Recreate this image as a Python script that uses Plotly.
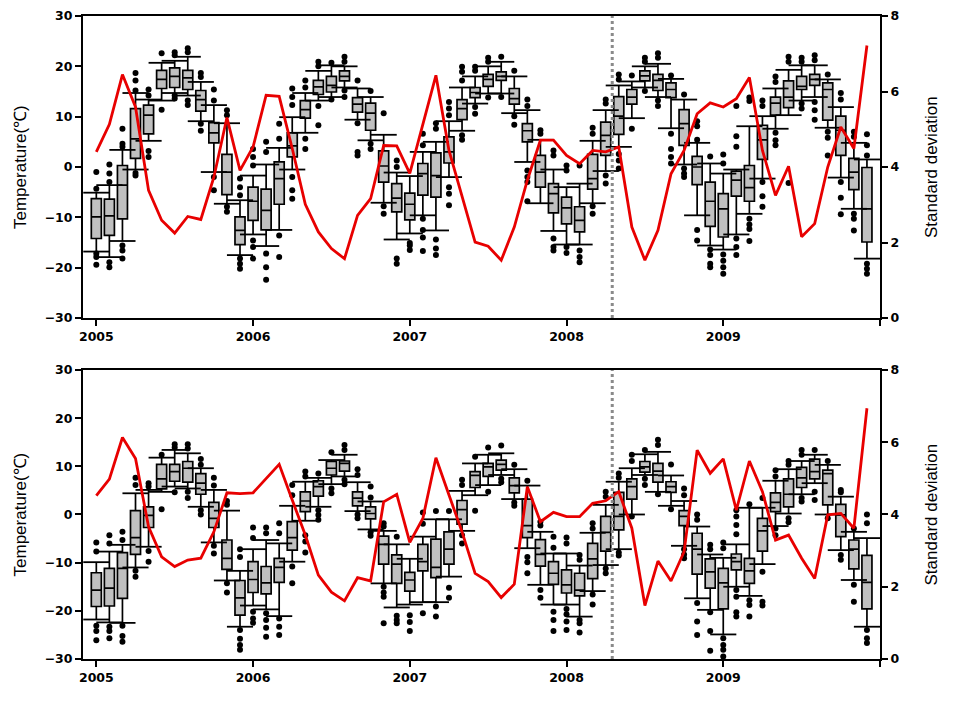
import plotly.graph_objects as go

# ---------------- data ----------------
start_year = 2005
n_months = 60
change_point = 2008 + 3.5 / 12   # dotted separator

tick_years = [2005, 2006, 2007, 2008, 2009, 2010]
tick_labels = ["2005", "2006", "2007", "2008", "2009", ""]
temp_ticks = [-30, -20, -10, 0, 10, 20, 30]
sd_ticks = [0, 2, 4, 6, 8]

# top panel: box statistics (q1, median, q3, lower whisker, upper whisker)
top_q1 = [-14.2, -13.6, -10.3, 1.7, 6.6, 15.6, 15.8, 15.4, 11.1, 4.8, -5.5, -15.4,
          -10.6, -12.5, -7.4, 2.0, 9.7, 14.4, 14.9, 17.1, 10.9, 7.3, -3.0, -8.9,
          -10.5, -5.6, -6.0, 0.8, 9.4, 13.8, 16.0, 17.2, 12.5, 5.0, -4.0, -9.1,
          -11.3, -12.9, -4.4, 2.3, 6.5, 12.5, 17.1, 15.2, 13.8, 4.3, -3.5, -11.8,
          -13.9, -5.8, -6.8, 1.5, 10.3, 11.8, 15.4, 16.2, 9.3, 2.3, -4.5, -14.9]
top_med = [-9.9, -9.7, -3.6, 5.6, 10.3, 17.4, 18.0, 17.7, 13.4, 6.8, -1.0, -12.6,
           -6.8, -8.6, -2.3, 4.2, 11.4, 15.9, 16.2, 18.0, 12.5, 10.7, 0.2, -6.2,
           -7.4, -1.3, -1.7, 3.0, 11.6, 14.8, 17.4, 18.0, 13.6, 7.2, -1.0, -5.3,
           -8.1, -10.6, -2.3, 6.3, 10.1, 13.9, 18.1, 17.2, 15.4, 8.6, 0.0, -6.8,
           -8.3, -2.6, -4.1, 5.4, 12.7, 13.9, 16.0, 17.4, 15.4, 7.3, -1.0, -8.3]
top_q3 = [-6.3, -6.4, 0.3, 11.6, 12.3, 19.2, 19.7, 19.2, 15.2, 8.8, 2.5, -9.9,
          -4.0, -4.4, 1.0, 6.8, 13.2, 17.2, 18.0, 19.1, 13.8, 12.7, 3.2, -3.3,
          -5.2, 0.7, 2.8, 6.0, 13.4, 15.8, 18.4, 18.9, 15.6, 8.6, 2.3, -3.3,
          -6.0, -7.9, 2.5, 8.9, 14.0, 15.4, 19.1, 18.4, 16.7, 11.4, 2.1, -3.0,
          -5.3, -0.8, 0.3, 8.3, 13.9, 17.1, 18.0, 18.4, 16.7, 10.1, 1.7, -0.1]
top_low = [-16.8, -17.9, -14.7, -0.5, 5.2, 13.2, 14.7, 14.2, 9.1, -1.0, -7.3, -17.5,
           -13.4, -15.7, -12.5, -0.5, 6.8, 13.2, 13.9, 15.8, 9.4, 5.3, -7.1, -14.4,
           -13.2, -9.6, -12.6, -2.0, 7.2, 12.6, 14.6, 14.6, 10.7, 1.0, -7.2, -12.7,
           -15.4, -15.4, -7.2, -0.8, 4.0, 9.7, 15.8, 13.9, 7.7, 0.5, -9.6, -15.6,
           -16.4, -13.4, -9.3, -2.3, 7.6, 10.3, 13.2, 13.9, 7.8, -2.1, -8.3, -18.2]
top_high = [-5.1, -3.6, 3.4, 14.7, 13.4, 20.7, 21.1, 21.9, 16.9, 12.3, 8.7, -6.6,
            -1.7, 0.5, 3.8, 9.9, 14.7, 19.1, 20.2, 20.0, 15.6, 13.9, 6.4, -1.1,
            -1.8, 3.0, 5.0, 9.1, 15.8, 18.0, 20.0, 20.9, 18.0, 11.3, 5.4, -0.5,
            -4.0, -3.3, 5.2, 11.3, 16.2, 17.0, 20.0, 20.5, 17.5, 13.4, 4.8, 0.7,
            -1.3, -0.5, 8.1, 10.1, 15.6, 19.3, 20.2, 20.2, 17.4, 11.9, 4.8, 1.5]
top_outliers = [
    [-1.0, -4.3, -17.2, -17.9, -19.4], [0.5, -1.3, -3.0, -18.9, -19.9],
    [7.6, 4.6, 4.0, -15.6, -16.6, -18.2], [18.7, 17.2, 15.2, -1.2, -1.7],
    [15.4, 14.2, 3.2, 2.0], [22.6, 11.4], [22.8, 22.2, 14.2, 13.6],
    [23.6, 22.8, 13.2, 12.3], [18.7, 17.9, 8.6, 7.2], [15.4, 13.2, -2.0, -4.6],
    [11.3, 10.3, -7.9, -8.9], [-2.3, -4.0, -5.6, -18.2, -19.2, -20.2],
    [3.6, 2.0, 0.3, -14.6, -15.9, -18.2], [5.0, 3.0, -17.2, -19.9, -22.4],
    [8.6, 5.6, -13.6, -17.9], [15.6, 13.9, 12.3, -2.0, -4.6, -6.3],
    [17.2, 15.8, 5.6, 3.6], [20.9, 20.0, 12.1, 8.3], [20.7, 13.4],
    [21.9, 20.9, 15.2, 13.9], [17.2, 8.7, 3.0, 2.3], [15.1, 4.6, 3.6],
    [10.7, -7.8, -9.3], [1.3, 0.0, -18.2, -19.2], [-15.1, -15.6, -16.5],
    [6.6, 4.3, -10.3, -12.5, -14.0, -16.7], [8.7, 7.6, -14.4, -16.2, -17.5],
    [12.9, 11.6, 10.3, -4.0, -5.3, -7.6], [19.9, 18.9, 17.2, 6.3, 5.4],
    [19.9, 19.1, 11.9, 10.6], [21.7, 20.9, 13.8], [21.9, 13.9],
    [19.1, 10.1, 8.4], [13.4, 12.1, -0.7, -2.0, -3.0, -6.8], [7.3, 6.6],
    [3.3, 2.3, -14.2, -15.9, -16.6], [0.3, -0.7, -15.9, -17.1],
    [0.3, -16.6, -17.9, -18.9], [7.8, 6.6, -7.8, -9.3], [13.4, 12.6, -1.7, -3.3],
    [18.4, 17.4, 2.6, 1.3, -0.3], [18.2, 7.6], [21.7, 20.9, 15.1],
    [22.6, 21.7, 13.2, 12.1], [18.2, 6.6, 3.6, 2.0, 0.7], [14.4, -0.3, -1.3, -2.0],
    [9.1, 8.1, 5.4, -12.5, -14.6], [2.1, -16.4, -17.5, -19.2, -19.9],
    [2.5, 0.7, -17.4, -18.6, -19.9, -21.2], [12.1, 6.1, 4.0, -14.2, -15.9, -17.5],
    [13.8, 13.1, -10.3, -11.4, -12.3, -14.7], [13.2, 12.1, -3.0, -5.8, -7.9],
    [18.0, 16.9, 6.8, 5.3, 4.3], [21.9, 20.9, -3.2], [21.7, 20.9, 12.6, 11.6],
    [22.2, 21.2, 12.9, 11.3, 9.4], [18.4, 7.0, 5.8, 2.3],
    [14.7, 13.4, -3.0, -6.1, -9.4], [7.0, 6.0, -9.3, -10.3, -12.6],
    [6.5, 4.3, 2.3, -19.2, -20.2, -21.2]]
top_sd = [4.40, 5.13, 6.45, 5.59, 3.38, 2.59, 2.25, 2.69, 2.61, 3.73, 5.31, 3.91,
          4.53, 5.90, 5.87, 4.49, 3.01, 2.28, 1.84, 1.57, 2.72, 3.16, 4.57, 4.56,
          3.83, 5.10, 6.43, 4.44, 3.21, 2.01, 1.90, 1.53, 2.41, 3.65, 4.71, 4.71,
          4.31, 4.09, 4.44, 4.40, 4.53, 2.41, 1.53, 2.32, 3.82, 4.44, 5.41, 5.70,
          5.59, 5.81, 6.37, 4.44, 3.25, 4.02, 2.15, 2.50, 4.00, 5.06, 4.49, 7.22]

# bottom panel
bot_q1 = [-19.1, -19.0, -17.4, -8.3, -2.7, 5.3, 6.9, 6.7, 4.2, -2.7, -11.4, -20.9,
          -16.2, -16.5, -14.1, -7.4, 0.6, 3.8, 8.2, 9.0, 1.8, -0.9, -10.3, -14.3,
          -15.9, -11.7, -13.1, -10.3, -2.0, 5.6, 7.9, 9.2, 4.5, -4.8, -10.7, -14.5,
          -16.3, -16.9, -13.3, -7.6, -3.2, 3.2, 8.8, 6.7, 4.6, -2.3, -12.4, -15.3,
          -19.6, -11.5, -14.3, -7.6, 0.6, 1.6, 5.6, 7.4, 2.0, -4.6, -11.3, -19.6]
bot_med = [-15.7, -15.3, -11.2, -4.8, -0.2, 7.4, 8.9, 9.6, 6.5, -0.8, -9.1, -17.3,
           -13.5, -14.2, -11.0, -4.8, 2.8, 5.8, 9.6, 10.6, 3.4, 0.2, -6.2, -10.3,
           -13.6, -9.8, -11.0, -7.2, 1.0, 8.1, 9.9, 10.4, 6.0, -2.3, -8.3, -12.2,
           -14.6, -15.7, -9.2, -3.7, -0.4, 5.8, 9.9, 9.0, 5.8, -0.4, -7.2, -11.9,
           -14.2, -9.8, -11.7, -3.4, 2.5, 4.2, 7.6, 8.9, 8.5, -0.1, -7.2, -14.1]
bot_q3 = [-12.1, -11.2, -7.9, 0.8, 1.6, 10.4, 10.4, 11.0, 8.5, 2.5, -5.3, -13.7,
          -9.8, -10.8, -9.1, -1.5, 4.7, 7.0, 11.0, 11.1, 4.7, 1.6, -4.5, -8.4,
          -12.0, -6.2, -5.1, -3.6, 2.9, 8.9, 10.6, 11.3, 7.6, 3.2, -5.2, -9.8,
          -11.5, -12.2, -6.0, -0.4, 4.6, 7.4, 11.0, 10.6, 6.8, 0.8, -3.9, -9.2,
          -11.2, -8.2, -9.1, -0.8, 4.5, 7.4, 9.8, 11.5, 9.2, 2.1, -5.3, -8.5]
bot_low = [-21.8, -22.4, -22.5, -11.0, -6.7, 4.7, 5.8, 5.4, 1.6, -5.8, -13.7, -23.3,
           -18.9, -19.7, -21.1, -9.8, -1.3, 1.6, 6.3, 7.9, 0.7, -3.1, -14.3, -19.3,
           -18.7, -18.2, -18.2, -12.9, -3.4, 4.0, 6.1, 8.2, 3.2, -7.0, -14.6, -18.7,
           -18.7, -21.2, -15.9, -10.5, -7.2, 0.0, 8.2, 4.7, 1.8, -6.5, -17.4, -19.8,
           -24.9, -15.0, -16.9, -10.3, -2.4, 0.2, 4.2, 6.5, 0.0, -7.4, -13.6, -23.3]
bot_high = [-9.9, -7.7, -6.3, 4.4, 5.1, 11.8, 13.4, 12.7, 9.6, 5.1, 0.8, -11.7,
            -7.2, -5.3, -6.0, 1.8, 6.8, 7.6, 11.3, 12.4, 6.7, 2.7, -3.4, -6.2,
            -9.2, -4.6, -1.0, -1.0, 4.9, 10.6, 12.4, 12.7, 9.4, 6.0, -3.6, -8.1,
            -8.1, -10.6, -3.8, 2.0, 6.8, 9.6, 12.5, 13.0, 8.1, 2.8, -2.5, -8.3,
            -9.0, -6.2, 1.4, 1.4, 7.0, 9.4, 11.1, 12.4, 10.3, 3.7, -3.6, -4.9]
bot_outliers = [
    [-5.8, -7.7, -23.1, -24.2, -26.1], [-4.3, -6.0, -23.3, -24.2, -25.7],
    [-3.6, -5.3, -23.1, -25.2, -26.4], [7.6, 6.1, -11.7, -12.9],
    [6.5, 5.8, -7.6, -9.8], [12.4, 1.1], [14.6, 13.9, 4.6], [14.6, 13.7, 4.7, 3.4],
    [11.5, 10.3, 0.9, 0.0], [7.6, 6.0, -6.5, -8.1], [2.8, 2.0, -14.3, -16.2],
    [-7.2, -8.8, -24.0, -25.8, -27.1, -28.1], [-2.7, -4.9, -20.2, -21.6, -22.5],
    [-2.7, -3.9, -20.5, -21.9, -23.5, -25.4], [-1.8, -3.9, -21.6, -23.3, -25.0],
    [6.1, 4.0, -10.8, -14.3], [8.9, 7.9, -4.3, -5.6, -7.9], [8.5, 0.9, -0.1, -1.1],
    [12.9, 5.4, 4.4], [14.4, 13.4, 7.2, 6.3], [9.4, 8.2, 0.0, -0.8],
    [5.8, 3.5, -3.7, -4.4], [-1.8, -2.5, -15.0, -16.2, -17.1, -22.6],
    [-4.6, -21.0, -21.9, -22.6], [-20.9, -22.3, -24.2], [0.4, -1.9, -20.5],
    [0.7, -19.1, -21.2], [0.7, -15.2, -17.3], [7.2, 6.1, -4.3, -6.0], [12.0, 0.8],
    [13.9, 4.7], [14.3, 7.4, 6.7], [10.3, 2.5, 1.8], [7.0, -8.8, -9.9, -12.2],
    [-1.5, -2.3, -15.7, -17.3], [-4.6, -6.9, -20.2, -21.9, -24.2],
    [-4.8, -6.0, -19.6, -20.7, -22.2, -24.0], [-8.4, -9.4, -21.9, -22.6, -24.5],
    [-1.8, -2.9, -16.6, -18.7], [4.7, 3.7, -11.2, -12.2], [8.5, 7.6, -7.9, -8.5],
    [12.4, 11.1, -0.4], [13.4, 7.4, 6.1], [15.5, 14.4, 4.2], [10.4, 1.1],
    [5.4, 4.0, -7.2, -8.3, -9.1], [0.0, -1.1, -18.4, -22.2, -25.0],
    [-6.3, -7.2, -20.3, -24.2, -28.3], [-5.8, -7.0, -25.7, -27.1, -28.1, -29.5],
    [0.9, -0.4, -2.2, -4.1, -15.7, -17.1, -20.3, -21.2], [2.1, -17.8, -18.8, -21.2],
    [3.4, -11.9, -18.1, -18.9], [9.2, 7.9, -2.9, -4.3], [11.1, 10.3, -0.8, -1.6],
    [13.4, 12.4, 3.4, 2.7], [13.4, 4.7, 3.0], [11.1, -0.8], [5.1, 4.6, -8.4, -9.4],
    [-2.9, -14.6, -18.1], [0.0, -1.8, -24.0, -25.7, -26.7]]
bot_sd = [4.52, 4.98, 6.13, 5.55, 3.66, 2.83, 2.56, 2.74, 2.79, 3.52, 4.60, 4.58,
          4.60, 5.00, 5.39, 4.40, 3.43, 2.32, 1.85, 1.61, 2.25, 2.16, 4.35, 4.56,
          3.23, 3.89, 5.57, 4.54, 3.52, 2.37, 2.14, 1.70, 2.07, 4.77, 3.80, 4.06,
          3.94, 3.94, 4.31, 4.38, 4.63, 3.62, 1.48, 2.71, 2.16, 2.97, 5.78, 5.14,
          5.54, 4.12, 5.48, 4.63, 3.29, 3.43, 2.79, 2.23, 3.99, 4.03, 3.62, 6.94]

# ---------------- helpers ----------------
months = [start_year + m / 12 for m in range(n_months)]
box_width = 0.064
cap_half = 1 / 12

FONT = "Liberation Sans"
TICKFONT = dict(family="DejaVu Sans", size=12.5, color="black", weight="bold")

fig = go.Figure()


def add_panel(q1, med, q3, low, high, outliers, sd, xa, ya, ya2):
    fig.add_trace(go.Box(
        x=months, q1=q1, median=med, q3=q3, lowerfence=low, upperfence=high,
        width=box_width, whiskerwidth=0, boxpoints=False,
        fillcolor="#c0c0c0", line=dict(color="black", width=1.7),
        xaxis=xa, yaxis=ya, showlegend=False, hoverinfo="skip"))
    cx, cy = [], []
    for x, lo, hi in zip(months, low, high):
        for v in (lo, hi):
            cx += [x - cap_half, x + cap_half, None]
            cy += [v, v, None]
    fig.add_trace(go.Scatter(x=cx, y=cy, mode="lines",
                             line=dict(color="black", width=1.8),
                             xaxis=xa, yaxis=ya, showlegend=False, hoverinfo="skip"))
    ox, oy = [], []
    for x, pts in zip(months, outliers):
        ox += [x] * len(pts)
        oy += pts
    fig.add_trace(go.Scatter(x=ox, y=oy, mode="markers",
                             marker=dict(color="black", size=6),
                             xaxis=xa, yaxis=ya, showlegend=False, hoverinfo="skip"))
    fig.add_trace(go.Scatter(x=months, y=sd, mode="lines",
                             line=dict(color="#e80000", width=2.8),
                             xaxis=xa, yaxis=ya2, showlegend=False, hoverinfo="skip"))
    fig.add_shape(type="line", xref=xa, yref=f"{ya} domain",
                  x0=change_point, x1=change_point, y0=0, y1=1,
                  line=dict(color="#8a8a8a", width=3, dash="dot"))


add_panel(top_q1, top_med, top_q3, top_low, top_high, top_outliers, top_sd, "x", "y", "y2")
add_panel(bot_q1, bot_med, bot_q3, bot_low, bot_high, bot_outliers, bot_sd, "x2", "y3", "y4")

xcommon = dict(range=[2004.915, 2010.0], tickvals=tick_years, ticktext=tick_labels,
               ticks="outside", ticklen=6, tickwidth=2, tickcolor="black",
               showline=True, linewidth=2, linecolor="black", mirror=True,
               showgrid=False, zeroline=False, tickfont=TICKFONT, automargin=False)
ycommon = dict(range=[-30, 30], tickvals=temp_ticks, ticks="outside", ticklen=6,
               tickwidth=2, tickcolor="black", showline=True, linewidth=2,
               linecolor="black", showgrid=False, zeroline=False, tickfont=TICKFONT,
               automargin=False)
y2common = dict(range=[0, 8], tickvals=sd_ticks, ticks="outside", ticklen=6,
                tickwidth=2, tickcolor="black", showline=True, linewidth=2,
                linecolor="black", showgrid=False, zeroline=False, side="right",
                tickfont=TICKFONT, automargin=False)

top_dom = [0.5303, 1.0]
bot_dom = [0.0, 0.4495]

# the page body adds an 8px offset, so the figure is 8px smaller than the window
fig.update_layout(
    width=947, height=693,
    margin=dict(l=75, r=75, t=8, b=42),
    paper_bgcolor="white", plot_bgcolor="white",
    xaxis=dict(domain=[0, 1], anchor="y", **xcommon),
    yaxis=dict(domain=top_dom, anchor="x", **ycommon),
    yaxis2=dict(domain=top_dom, anchor="x", overlaying="y", **y2common),
    xaxis2=dict(domain=[0, 1], anchor="y3", **xcommon),
    yaxis3=dict(domain=bot_dom, anchor="x2", **ycommon),
    yaxis4=dict(domain=bot_dom, anchor="x2", overlaying="y3", **y2common),
    showlegend=False,
)

for dom in (top_dom, bot_dom):
    mid = (dom[0] + dom[1]) / 2
    fig.add_annotation(text="Temperature(℃)", xref="paper", yref="paper",
                       x=0, y=mid, xshift=-63, xanchor="center", yanchor="middle",
                       textangle=-90, showarrow=False,
                       font=dict(family=FONT, size=17, color="black"))
    fig.add_annotation(text="Standard deviation", xref="paper", yref="paper",
                       x=1, y=mid, xshift=51, xanchor="center", yanchor="middle",
                       textangle=-90, showarrow=False,
                       font=dict(family=FONT, size=17, color="black"))

fig.write_html("out.html")
